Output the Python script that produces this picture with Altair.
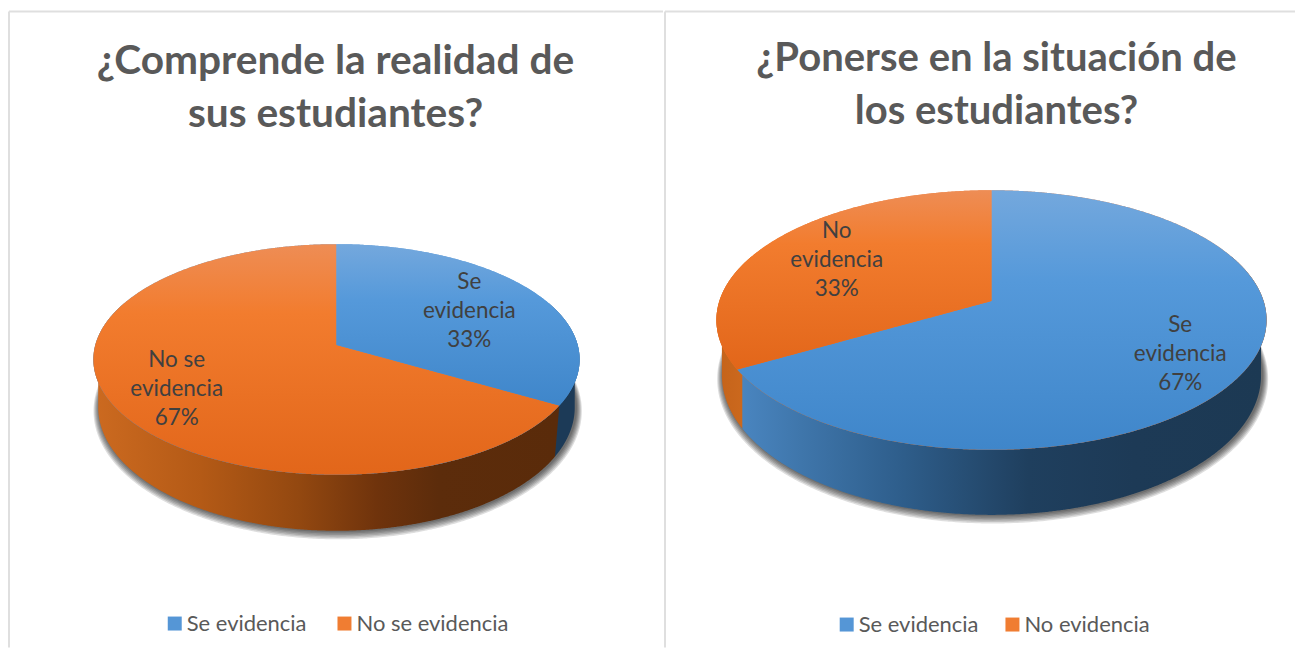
import math
import altair as alt
import pandas as pd

# ---- values ----
left_title = ["¿Comprende la realidad de", "sus estudiantes?"]
right_title = ["¿Ponerse en la situación de", "los estudiantes?"]
left_categories = ["Se evidencia", "No se evidencia"]
right_categories = ["Se evidencia", "No evidencia"]
left_counts = [1, 2]
right_counts = [2, 1]
left_label_lines = ["Se\nevidencia", "No se\nevidencia"]
right_label_lines = ["Se\nevidencia", "No\nevidencia"]

BLUE, ORANGE = "#5596d6", "#f07d32"
FONT = "Lato"
PAGE_X, PAGE_Y = 8, 8
HEIGHT = 640
BORDER = "#dfdfdf"

BLUE_TOP = [(0, "#74a8dd"), (0.35, "#5599da"), (1, "#3f86ca")]
ORANGE_TOP = [(0, "#ee8d55"), (0.3, "#f27c2e"), (1, "#e2661a")]


def grad(stops, horizontal=False):
    return alt.Gradient(
        gradient="linear",
        x1=0, x2=1 if horizontal else 0,
        y1=0, y2=0 if horizontal else 1,
        stops=[alt.GradientStop(offset=o, color=c) for o, c in stops],
    )


class Pie:
    def __init__(self, apex, rx, back, front, wall):
        self.ax, self.ay = apex
        self.k = (front - back) / (front + back)
        self.A = front * (1 - self.k)
        self.B = rx * math.sqrt(1 - self.k ** 2)
        self.wall = wall  # (x scale, y scale, offset) of the lower rim

    def top(self, deg):
        t = math.radians(deg)
        u, s = -math.cos(t), math.sin(t)
        w = 1 - self.k * u
        return self.B * s / w, self.A * u / w

    def rim(self, deg, grow=0.0, shift=(0, 0)):
        x, y = self.top(deg)
        sx, sy, d = self.wall
        return (self.ax + x * sx * (1 + grow) + shift[0],
                self.ay + y * sy * (1 + grow * 1.6) + d + shift[1])

    def disc(self, deg):
        x, y = self.top(deg)
        return self.ax + x, self.ay + y


def span(poly):
    """Turn a closed outline into x / y / y2 rows for an area mark."""
    xs = sorted({round(p[0], 3) for p in poly})
    extra = []
    for x in xs:
        extra += [x - 0.02]
    xs = sorted(set(xs + extra))
    rows = []
    n = len(poly)
    for x in xs:
        ys = []
        for i in range(n):
            (x0, y0), (x1, y1) = poly[i], poly[(i + 1) % n]
            if x0 == x1:
                continue
            if min(x0, x1) <= x < max(x0, x1):
                ys.append(y0 + (x - x0) / (x1 - x0) * (y1 - y0))
        if len(ys) >= 2:
            rows.append({"px": x, "py": min(ys), "py2": max(ys)})
    return pd.DataFrame(rows)


def frange(a, b, step=0.5):
    n = max(2, int(abs(b - a) / step) + 1)
    return [a + (b - a) * i / (n - 1) for i in range(n)]


def panel(pie, counts, cats, label_lines, label_xy, x0, x1, rule_x, title, title_size, title_off,
          title_dx, top_stops, wall_stops, legend_xy):
    yscale = alt.Scale(domain=[PAGE_Y + HEIGHT, PAGE_Y], nice=False, zero=False)
    xscale = alt.Scale(domain=[x0, x1], nice=False, zero=False)
    X = alt.X("px:Q", scale=xscale, axis=None)
    Y = alt.Y("py:Q", scale=yscale, axis=None)
    Y2 = alt.Y2("py2:Q")

    total = sum(counts)
    angles = [0]
    for c in counts:
        angles.append(angles[-1] + 360 * c / total)
    split = angles[1]
    th_r = math.degrees(math.acos(-pie.k))
    th_l = 360 - th_r
    layers = []

    # soft shadow under the rim
    for i in range(6, 0, -1):
        outline = [pie.rim(a, grow=i / pie.B, shift=(1.2, i * 0.5)) for a in frange(0, 360, 1)]
        layers.append(alt.Chart(span(outline)).mark_area(color="#000000", opacity=0.13)
                      .encode(x=X, y=Y, y2=Y2))

    # side walls
    a_ranges = [(th_r - 30, split), (split, th_l + 30)]
    for (a, b), stops in zip(a_ranges, wall_stops):
        fr = frange(a, b)
        poly = [pie.disc(t) for t in fr] + [pie.rim(t) for t in reversed(fr)]
        layers.append(alt.Chart(span(poly)).mark_area(color=grad(stops, True))
                      .encode(x=X, y=Y, y2=Y2))

    # top disc: base in the smaller slice's colour closes the seams, then largest slice first
    order = sorted(range(2), key=lambda i: -counts[i])
    base = [pie.disc(t) for t in frange(0, 360)]
    layers.append(alt.Chart(span(base)).mark_area(color=grad(top_stops[order[1]]))
                  .encode(x=X, y=Y, y2=Y2))
    for i in order:
        a, b = angles[i], angles[i + 1]
        poly = [(pie.ax, pie.ay)] + [pie.disc(t) for t in frange(a, b)]
        layers.append(alt.Chart(span(poly)).mark_area(color=grad(top_stops[i]))
                      .encode(x=X, y=Y, y2=Y2))

    # slice labels
    labels = pd.DataFrame({
        "px": [p[0] for p in label_xy],
        "py": [p[1] for p in label_xy],
        "label": [f"{l}\n{round(100 * c / total)}%" for l, c in zip(label_lines, counts)],
    })
    layers.append(alt.Chart(labels).mark_text(
        font=FONT, fontSize=22.5, color="#404040", lineBreak="\n", lineHeight=29,
        align="center", baseline="middle").encode(x=X, y=Y, text="label:N"))

    # frame lines
    v = pd.DataFrame({"px": [rule_x], "py": [11], "py2": [PAGE_Y + HEIGHT]})
    h = pd.DataFrame({"px": [rule_x], "px2": [x1], "py": [11]})
    layers.append(alt.Chart(v).mark_rule(color=BORDER, strokeWidth=2).encode(x=X, y=Y, y2=Y2))
    layers.append(alt.Chart(h).mark_rule(color=BORDER, strokeWidth=2)
                  .encode(x=X, x2=alt.X2("px2:Q"), y=Y))

    # legend carrier
    leg = pd.DataFrame({"px": [x0 + 1, x0 + 1], "py": [PAGE_Y + 4, PAGE_Y + 4], "cat": cats})
    layers.append(alt.Chart(leg).mark_square(size=0, opacity=1).encode(
        x=X, y=Y,
        color=alt.Color("cat:N", scale=alt.Scale(domain=cats, range=[BLUE, ORANGE]),
                        sort=cats,
                        legend=alt.Legend(
                            orient="none", legendX=legend_xy[0], legendY=legend_xy[1],
                            direction="horizontal", title=None, symbolType="square",
                            symbolSize=196, symbolStrokeWidth=0, symbolOpacity=1,
                            labelFont=FONT, labelFontSize=22, labelColor="#595959",
                            labelOffset=1, columnPadding=legend_xy[2], labelLimit=300,
                            padding=0))))

    return alt.layer(*layers).properties(
        width=x1 - x0, height=HEIGHT,
        title=alt.TitleParams(text=title, font=FONT, fontSize=title_size, fontWeight="bold",
                              color="#595959", lineHeight=53, anchor="middle",
                              offset=title_off, dx=title_dx),
    )


left_pie = Pie((337, 345), 243.5, 101, 130, (0.98, 1.07, 47))
right_pie = Pie((992, 301), 275.5, 111, 149, (0.98, 1.075, 54))

left = panel(
    left_pie, left_counts, left_categories, left_label_lines,
    [(470, 282), (177, 360)], PAGE_X, 664, 9, left_title, 40.7, -127.5, 0,
    [BLUE_TOP, ORANGE_TOP],
    [[(0, "#1c3a57"), (1, "#1c3a57")],
     [(0, "#cc6a20"), (0.23, "#b45a16"), (0.44, "#934810"), (0.61, "#6f330c"),
      (0.74, "#5c2c0b"), (1, "#5a2b0a")]],
    (156, 605, 26),
)
right = panel(
    right_pie, right_counts, right_categories, right_label_lines,
    [(1181, 325), (837, 231)], 664, 1296, 665, right_title, 40.1, -124, 17,
    [BLUE_TOP, ORANGE_TOP],
    [[(0, "#4a86c1"), (0.12, "#3f76ab"), (0.3, "#2f5f8d"), (0.55, "#1f3f5e"),
      (0.75, "#1d3a56"), (1, "#1c3953")],
     [(0, "#c4631a"), (1, "#cf6b1f")]],
    (172, 606, 22),
)

chart = (
    alt.hconcat(left, right, spacing=0)
    .resolve_scale(color="independent")
    .properties(padding=0, background="white")
    .configure_view(strokeWidth=0)
)

chart.save("out.html", embed_options={"renderer": "svg", "actions": False})
